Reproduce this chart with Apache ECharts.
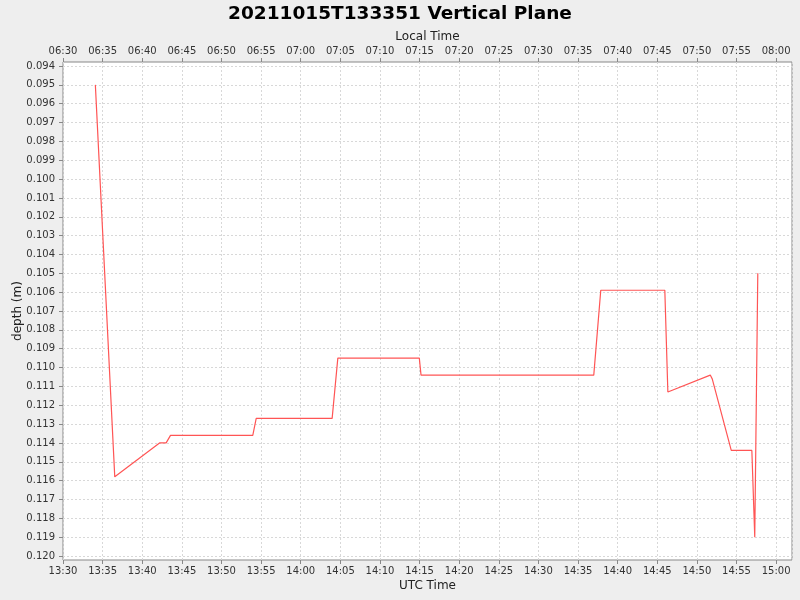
<!DOCTYPE html>
<html>
<head>
<meta charset="utf-8">
<script src="https://cdn.jsdelivr.net/npm/echarts@6/dist/echarts.min.js"></script>
<style>
  html, body { margin: 0; padding: 0; background: #eeeeee; }
  #chart { width: 800px; height: 600px; }
</style>
</head>
<body>
<div id="chart"></div>
<script>
// depth samples (UTC time, depth in metres)
var utcTimes = ['13:34:05', '13:36:32', '13:42:11', '13:43:01', '13:43:34', '13:53:57',
                '13:54:23', '14:03:58', '14:04:41', '14:14:58', '14:15:11', '14:36:59',
                '14:37:52', '14:45:57', '14:46:20', '14:51:41', '14:51:56', '14:54:20',
                '14:56:56', '14:57:18', '14:57:41'];
var depths = [0.0950, 0.1158, 0.1140, 0.1140, 0.1136, 0.1136,
              0.1127, 0.1127, 0.1095, 0.1095, 0.1104, 0.1104,
              0.1059, 0.1059, 0.1113, 0.1104, 0.1106, 0.1144,
              0.1144, 0.1190, 0.1050];

// axis ticks, minutes after 13:30 UTC
var xTickMinutes = [0, 5, 10, 15, 20, 25, 30, 35, 40, 45, 50, 55, 60, 65, 70, 75, 80, 85, 90];
var axisStart = '13:30:00';
var localOffsetHours = -7;

function toMin(s) {
    var p = s.split(':');
    return (+p[0]) * 60 + (+p[1]) + (+p[2]) / 60;
}
var startMin = toMin(axisStart);

function clock(m, offsetH) {
    var total = Math.round(startMin + m + offsetH * 60);
    total = ((total % 1440) + 1440) % 1440;
    var h = Math.floor(total / 60), mm = total % 60;
    return (h < 10 ? '0' : '') + h + ':' + (mm < 10 ? '0' : '') + mm;
}

var seriesData = utcTimes.map(function (t, i) {
    return [toMin(t) - startMin, depths[i]];
});

var font = 'DejaVu Sans';
var chart = echarts.init(document.getElementById('chart'));
chart.setOption({
    animation: false,
    backgroundColor: '#eeeeee',
    textStyle: { fontFamily: font },
    title: {
        text: '20211015T133351 Vertical Plane',
        left: 'center',
        top: 0,
        textStyle: { fontSize: 18.5, fontWeight: 'bold', color: '#000', fontFamily: font }
    },
    grid: [
        { left: 63, right: 8, top: 62, bottom: 40, show: true, backgroundColor: '#fff',
          borderColor: '#888', borderWidth: 1, containLabel: false, outerBoundsMode: 'none' },
        { left: 63, right: 8, top: 66, bottom: 44, containLabel: false, outerBoundsMode: 'none' }
    ],
    xAxis: [
        {
            gridIndex: 0, type: 'value', min: 0, max: 92, interval: 5,
            axisLine: { show: false }, axisTick: { show: false }, axisLabel: { show: false },
            splitLine: { show: true, lineStyle: { color: '#d8d8d8', type: [2, 2] } }
        },
        {
            gridIndex: 1, type: 'value', position: 'bottom', offset: 4, min: 0, max: 92,
            axisLine: { show: false },
            axisTick: { show: true, length: 4, customValues: xTickMinutes, lineStyle: { color: '#888' } },
            axisLabel: { customValues: xTickMinutes, margin: 6, fontSize: 10, color: '#333',
                         formatter: function (v) { return clock(v, 0); } },
            splitLine: { show: false },
            name: 'UTC Time', nameLocation: 'middle', nameGap: 20, nameMoveOverlap: false,
            nameTextStyle: { fontSize: 12, color: '#222' }
        },
        {
            gridIndex: 1, type: 'value', position: 'top', offset: 4, min: 0, max: 92,
            axisLine: { show: false },
            axisTick: { show: true, length: 4, customValues: xTickMinutes, lineStyle: { color: '#888' } },
            axisLabel: { customValues: xTickMinutes, margin: 6, fontSize: 10, color: '#333',
                         formatter: function (v) { return clock(v, localOffsetHours); } },
            splitLine: { show: false },
            name: 'Local Time', nameLocation: 'middle', nameGap: 19, nameMoveOverlap: false,
            nameTextStyle: { fontSize: 12, color: '#222' }
        }
    ],
    yAxis: [
        { gridIndex: 0, type: 'value', show: false },
        {
            gridIndex: 1, type: 'value', inverse: true, min: 0.094, max: 0.120, interval: 0.001,
            axisLine: { show: false },
            axisTick: { show: true, length: 4, lineStyle: { color: '#888' } },
            axisLabel: { margin: 8, fontSize: 10, color: '#333',
                         formatter: function (v) { return v.toFixed(3); } },
            splitLine: { show: true, lineStyle: { color: '#d8d8d8', type: [2, 2] } },
            name: 'depth (m)', nameLocation: 'middle', nameGap: 39, nameMoveOverlap: false,
            nameTextStyle: { fontSize: 12, color: '#222' }
        }
    ],
    series: [
        {
            type: 'line',
            xAxisIndex: 1,
            yAxisIndex: 1,
            data: seriesData,
            showSymbol: false,
            lineStyle: { color: '#ff5555', width: 1.2 },
            itemStyle: { color: '#ff5555' }
        }
    ]
});
</script>
</body>
</html>
